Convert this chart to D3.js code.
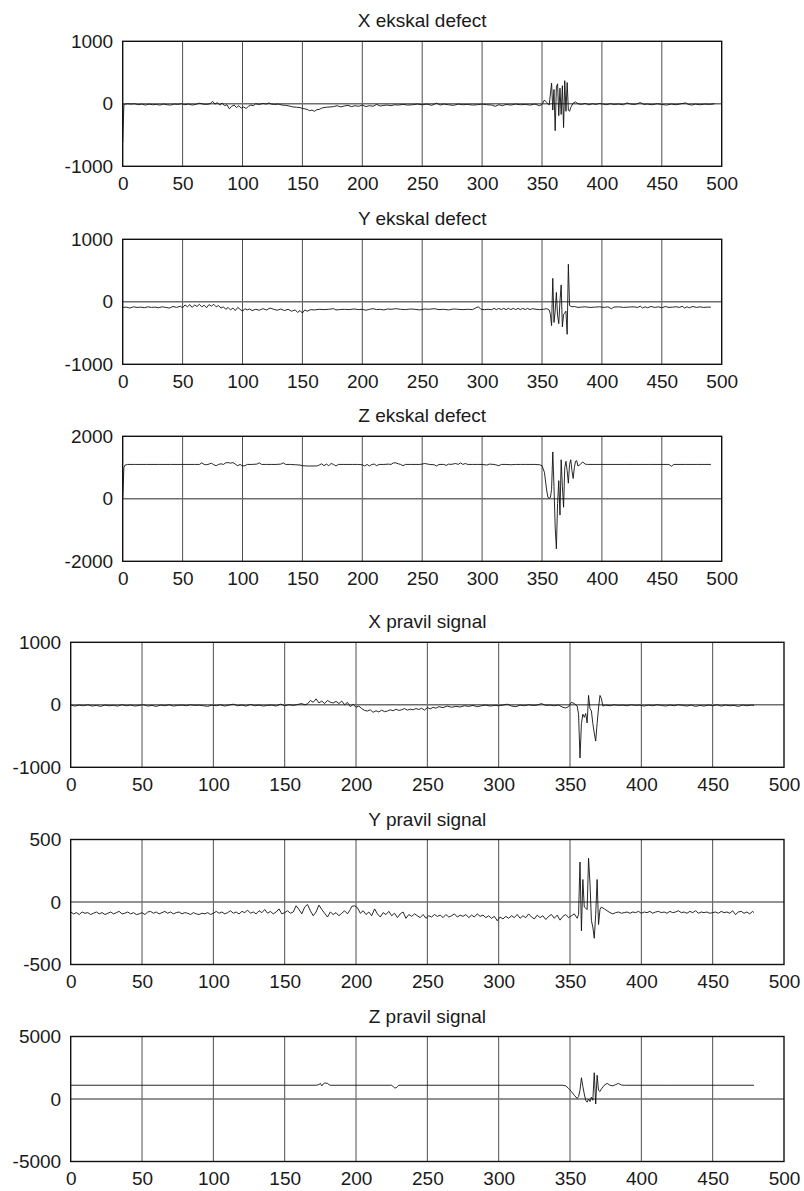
<!DOCTYPE html>
<html>
<head>
<meta charset="utf-8">
<script src="https://cdn.jsdelivr.net/npm/d3@7"></script>
<style>
  body { margin: 0; background: #fff; }
  svg { display: block; font-family: "Liberation Sans", Arial, sans-serif; }
  .tick text { font-size: 19px; fill: #1a1a1a; }
  .title { font-size: 19px; fill: #1a1a1a; }
</style>
</head>
<body>
<svg id="chart" width="804" height="1191"></svg>
<script>
// sample index, value pairs
const ekskalX = [
  [0,-620],[1,-10],[4,0],[7,-5],[10,0],[13,-15],[16,-5],[19,-20],[22,-5],[25,-15],[28,-10],[31,-20],[34,-5],[37,-15],[40,-20],[43,-5],[46,-10],[49,0],[52,-15],[55,-5],[58,-20],[61,-10],[64,10],[67,-5],[70,-10],[73,0],[75,40],[77,-5],[79,20],[81,-20],[83,10],[85,-30],[87,-15],[89,-80],[91,-40],[93,-20],[95,-60],[97,-30],[99,-70],[101,-50],[103,-75],[105,-40],[107,-20],[109,-30],[111,0],[114,-10],[117,5],[120,-5],[122,15],[124,-5],[127,-10],[130,-5],[133,-20],[136,-25],[139,-35],[142,-50],[145,-55],[148,-60],[150,-75],[152,-80],[154,-90],[156,-110],[158,-100],[160,-120],[162,-95],[164,-90],[166,-70],[168,-60],[170,-55],[173,-50],[176,-45],[179,-30],[182,-50],[185,-35],[188,-25],[191,-45],[194,-30],[197,-40],[200,-20],[203,-45],[206,-30],[209,-40],[212,-10],[215,-35],[218,-25],[221,-20],[224,-30],[227,-15],[230,-20],[234,-10],[238,-20],[242,-15],[246,-5],[250,-15],[254,-5],[258,-25],[262,10],[265,-20],[268,-5],[272,-15],[276,-25],[280,-5],[284,-15],[288,-10],[292,-20],[296,-15],[300,-5],[304,-15],[308,-20],[311,-40],[314,-15],[317,-30],[320,-10],[324,-20],[328,-5],[332,-15],[336,-10],[340,-20],[344,-5],[348,-30],[350,-10],[352,60],[354,20],[356,-20],[358,330],[359,-100],[360,230],[361,-430],[362,270],[363,320],[364,-190],[365,250],[366,-170],[367,290],[368,-380],[369,370],[370,-120],[371,340],[372,-100],[373,-120],[374,-60],[376,10],[378,30],[380,0],[383,-10],[386,5],[389,-15],[392,0],[395,-10],[398,5],[401,-5],[404,-15],[407,0],[410,-10],[414,-5],[418,-15],[421,15],[424,-5],[428,-10],[432,20],[435,-10],[438,-5],[442,-15],[446,0],[450,-10],[454,-20],[458,-5],[462,-15],[466,0],[470,15],[472,-10],[475,-20],[478,-5],[482,-15],[486,-5],[490,-10],[494,0]
];
const ekskalY = [
  [0,-90],[3,-85],[6,-100],[9,-80],[12,-90],[15,-85],[18,-95],[21,-80],[24,-90],[27,-85],[30,-95],[33,-80],[36,-90],[39,-100],[42,-75],[45,-90],[48,-70],[50,-95],[52,-50],[54,-80],[56,-45],[58,-90],[60,-50],[62,-75],[64,-40],[66,-80],[68,-55],[70,-95],[72,-45],[74,-70],[76,-40],[78,-80],[80,-60],[82,-100],[84,-80],[86,-120],[88,-90],[90,-130],[92,-100],[94,-140],[96,-90],[98,-120],[100,-150],[102,-110],[104,-130],[106,-115],[108,-140],[111,-120],[114,-135],[117,-110],[120,-130],[123,-100],[126,-120],[129,-135],[132,-115],[135,-140],[138,-120],[141,-150],[144,-130],[146,-170],[148,-140],[150,-180],[152,-130],[154,-150],[157,-125],[160,-130],[164,-120],[168,-125],[172,-120],[176,-110],[178,-130],[181,-125],[185,-120],[189,-125],[193,-115],[197,-125],[200,-120],[203,-135],[206,-120],[209,-110],[212,-125],[215,-120],[218,-130],[221,-115],[224,-120],[228,-110],[232,-120],[236,-125],[240,-115],[244,-120],[248,-130],[252,-115],[256,-120],[260,-110],[264,-125],[268,-120],[272,-130],[276,-115],[280,-120],[284,-125],[288,-120],[292,-125],[295,-95],[297,-80],[299,-120],[302,-125],[305,-120],[308,-125],[310,-105],[312,-125],[314,-105],[316,-125],[318,-105],[320,-125],[322,-105],[324,-125],[326,-105],[328,-125],[330,-105],[332,-125],[334,-105],[336,-125],[338,-105],[340,-125],[342,-110],[345,-120],[348,-125],[351,-120],[354,-110],[356,-130],[357,-200],[358,-380],[359,375],[360,-330],[361,-150],[362,150],[363,-220],[364,-350],[365,10],[366,270],[367,-400],[368,-200],[369,-180],[370,-150],[371,-520],[372,600],[373,-60],[375,-80],[377,-75],[380,-90],[383,-85],[386,-80],[390,-90],[394,-85],[398,-80],[402,-90],[405,-80],[408,-110],[410,-85],[414,-80],[418,-90],[422,-85],[426,-80],[430,-90],[432,-70],[434,-100],[436,-80],[438,-95],[441,-75],[444,-90],[447,-80],[450,-95],[453,-75],[456,-90],[459,-85],[462,-80],[465,-90],[467,-70],[469,-100],[471,-80],[473,-95],[476,-75],[479,-90],[482,-80],[485,-90],[488,-85],[491,-85]
];
const ekskalZ = [
  [0,0],[1,1000],[2,1080],[4,1100],[10,1100],[20,1100],[30,1100],[40,1100],[50,1100],[60,1100],[64,1100],[66,1150],[68,1100],[70,1090],[72,1110],[74,1140],[76,1090],[78,1060],[80,1100],[82,1120],[84,1100],[86,1150],[88,1160],[90,1140],[92,1160],[94,1110],[96,1060],[98,1100],[100,1050],[102,1060],[104,1100],[108,1100],[112,1110],[114,1150],[116,1100],[120,1100],[124,1100],[128,1100],[132,1110],[134,1150],[136,1100],[140,1100],[144,1090],[148,1080],[150,1060],[154,1050],[158,1050],[162,1050],[164,1080],[166,1120],[168,1060],[170,1110],[172,1060],[174,1130],[176,1100],[178,1050],[180,1100],[184,1100],[188,1100],[192,1100],[196,1100],[200,1090],[202,1050],[204,1100],[206,1050],[208,1100],[210,1110],[212,1060],[214,1100],[218,1100],[222,1110],[224,1100],[226,1150],[228,1150],[230,1120],[232,1100],[234,1060],[236,1100],[240,1100],[244,1100],[248,1100],[250,1110],[252,1130],[256,1100],[260,1090],[262,1050],[264,1100],[268,1100],[270,1070],[272,1110],[274,1100],[278,1130],[280,1100],[282,1150],[284,1100],[286,1130],[288,1100],[292,1100],[296,1100],[300,1100],[304,1080],[306,1110],[310,1100],[314,1060],[316,1100],[320,1100],[324,1090],[328,1100],[332,1100],[336,1100],[340,1100],[344,1100],[348,1090],[350,1060],[352,850],[354,250],[355,40],[356,20],[357,40],[358,300],[359,1500],[360,400],[361,-900],[362,-1600],[363,-150],[364,580],[365,-520],[366,1250],[367,400],[368,-270],[369,1000],[370,1200],[371,900],[372,500],[373,1100],[374,1250],[375,900],[376,650],[377,1000],[378,1200],[379,1220],[380,1050],[382,1100],[384,1180],[386,1110],[388,1100],[400,1100],[420,1100],[440,1100],[456,1100],[458,1040],[460,1100],[470,1100],[480,1100],[491,1100]
];
const pravilX = [
  [0,-5],[3,-20],[6,-5],[9,-15],[12,0],[15,-20],[18,-10],[21,-25],[24,-5],[27,-15],[30,-10],[33,-20],[36,0],[39,-15],[42,-5],[45,-20],[48,-10],[51,0],[54,-20],[57,-10],[60,-25],[63,-5],[66,-15],[69,0],[72,-20],[75,-10],[78,-5],[81,-15],[84,0],[87,-10],[90,-5],[93,-15],[96,-25],[99,-5],[102,-15],[105,0],[108,-20],[111,-5],[114,10],[117,-15],[120,-5],[123,-20],[126,5],[129,-15],[132,-5],[135,-20],[138,-10],[141,-5],[144,-20],[147,10],[150,-15],[153,0],[156,-10],[159,5],[162,20],[164,0],[166,15],[168,70],[170,40],[172,95],[174,30],[176,60],[178,20],[180,70],[182,40],[184,30],[186,55],[188,20],[190,60],[192,0],[194,40],[196,-30],[198,10],[200,-40],[202,-20],[204,-60],[206,-90],[208,-100],[210,-80],[212,-120],[214,-95],[216,-115],[218,-85],[220,-110],[222,-100],[224,-80],[226,-95],[228,-70],[230,-90],[232,-80],[234,-60],[236,-85],[238,-70],[240,-80],[242,-60],[244,-75],[246,-55],[248,-85],[250,-45],[252,-65],[254,-40],[256,-55],[258,-30],[261,-45],[264,-20],[267,-40],[270,-25],[273,-35],[276,-15],[279,-25],[282,-10],[285,-30],[288,-15],[291,-5],[294,-20],[297,-10],[300,-15],[303,-5],[306,10],[309,-20],[312,-30],[315,-5],[318,-15],[321,0],[324,-10],[327,-5],[330,20],[333,-10],[336,-5],[339,-15],[342,-5],[345,-40],[347,-50],[349,-30],[351,40],[353,20],[355,-20],[356,-150],[357,-850],[358,-300],[359,-150],[360,-200],[361,-140],[362,-290],[363,150],[364,-60],[365,-100],[366,-300],[367,-450],[368,-580],[369,-300],[370,-50],[371,150],[372,100],[373,-20],[375,-5],[378,-15],[381,0],[384,-10],[387,-5],[390,-15],[393,0],[396,-10],[399,-5],[402,-20],[405,-5],[408,-15],[411,0],[414,-10],[417,-20],[420,-5],[423,-15],[426,0],[429,-10],[432,-20],[435,-5],[438,-25],[441,-10],[444,-20],[447,-5],[450,-15],[453,0],[456,-20],[459,-5],[462,-15],[465,-10],[468,-25],[471,-5],[474,-15],[477,-5],[479,-10]
];
const pravilY = [
  [0,-80],[2,-95],[4,-85],[6,-100],[8,-80],[10,-90],[12,-85],[14,-100],[16,-90],[18,-80],[20,-95],[22,-85],[24,-100],[26,-90],[28,-80],[30,-95],[32,-85],[34,-75],[36,-95],[38,-90],[40,-80],[42,-95],[44,-85],[46,-100],[48,-95],[50,-85],[52,-100],[54,-80],[56,-75],[58,-90],[60,-80],[62,-95],[64,-85],[66,-75],[68,-90],[70,-80],[72,-95],[74,-85],[76,-80],[78,-95],[80,-85],[82,-90],[84,-100],[86,-85],[88,-95],[90,-100],[92,-90],[94,-95],[96,-85],[98,-100],[100,-90],[102,-75],[104,-90],[106,-80],[108,-95],[110,-85],[112,-70],[114,-90],[116,-80],[118,-95],[120,-75],[122,-85],[124,-65],[126,-90],[128,-80],[130,-95],[132,-70],[134,-85],[136,-60],[138,-90],[140,-75],[142,-95],[144,-80],[146,-55],[148,-95],[150,-85],[152,-70],[154,-90],[156,-80],[158,-30],[160,-60],[162,-95],[164,-40],[166,-20],[168,-70],[170,-110],[172,-80],[174,-25],[176,-60],[178,-90],[180,-120],[182,-80],[184,-100],[186,-85],[188,-110],[190,-90],[192,-70],[194,-95],[196,-60],[197,-35],[199,-30],[201,-45],[203,-90],[205,-70],[207,-100],[209,-80],[211,-110],[213,-55],[215,-95],[217,-120],[219,-85],[221,-100],[223,-75],[225,-110],[227,-90],[229,-125],[231,-95],[233,-80],[235,-130],[237,-100],[239,-115],[241,-95],[243,-110],[245,-125],[247,-100],[249,-130],[251,-110],[253,-120],[255,-100],[257,-115],[259,-105],[261,-125],[263,-100],[265,-120],[267,-110],[269,-95],[271,-120],[273,-105],[275,-115],[277,-100],[279,-125],[281,-105],[283,-120],[285,-95],[287,-115],[289,-105],[291,-125],[293,-110],[295,-130],[297,-115],[299,-150],[301,-120],[303,-135],[305,-115],[307,-130],[309,-110],[311,-125],[313,-100],[315,-130],[317,-110],[319,-125],[321,-95],[323,-120],[325,-135],[327,-105],[329,-125],[331,-110],[333,-140],[335,-115],[337,-100],[339,-130],[341,-105],[343,-145],[345,-115],[347,-100],[349,-125],[351,-110],[353,-95],[355,-130],[356,-100],[357,320],[358,-230],[359,180],[360,-40],[361,-50],[362,-60],[363,350],[364,150],[365,-150],[366,-200],[367,-290],[368,-100],[369,180],[370,-180],[371,-60],[372,-40],[374,-55],[376,-70],[378,-85],[380,-95],[382,-85],[384,-80],[386,-90],[388,-85],[390,-80],[392,-90],[394,-80],[396,-85],[398,-75],[400,-90],[402,-80],[404,-85],[406,-75],[408,-90],[410,-80],[412,-75],[414,-85],[416,-80],[418,-90],[420,-75],[422,-85],[424,-80],[426,-70],[428,-85],[430,-80],[432,-90],[434,-75],[436,-85],[438,-70],[440,-90],[442,-80],[444,-85],[446,-80],[448,-90],[450,-85],[452,-80],[454,-90],[456,-75],[458,-85],[460,-80],[462,-90],[464,-70],[466,-100],[468,-80],[470,-75],[472,-90],[474,-80],[476,-95],[478,-75],[479,-85]
];
const pravilZ = [
  [0,1100],[50,1100],[100,1100],[150,1100],[172,1100],[174,1150],[175,1250],[176,1050],[177,1200],[178,1280],[180,1250],[181,1150],[182,1100],[225,1100],[226,1000],[227,900],[228,880],[229,1000],[230,1100],[345,1100],[347,1050],[349,850],[351,600],[353,300],[355,50],[356,200],[357,700],[358,1700],[359,1000],[360,400],[361,-100],[362,-250],[363,0],[364,-200],[365,150],[366,-100],[367,2100],[368,-400],[369,1900],[370,700],[371,600],[372,800],[374,1100],[376,1250],[378,1100],[380,1050],[382,1150],[384,1250],[386,1120],[388,1100],[420,1100],[479,1100]
];

const titles = ['X ekskal defect', 'Y ekskal defect', 'Z ekskal defect',
                'X pravil signal', 'Y pravil signal', 'Z pravil signal'];
const series = [ekskalX, ekskalY, ekskalZ, pravilX, pravilY, pravilZ];
const yLimits = [1000, 1000, 2000, 1000, 500, 5000];
const xTicks = [0, 50, 100, 150, 200, 250, 300, 350, 400, 450, 500];

// panel boxes: left, top, width, height
const boxes = [
  [122.7, 41.3, 599, 125],
  [122.7, 239.3, 599, 125],
  [122.7, 436.3, 599, 125],
  [70.7, 642.3, 713.3, 125],
  [70.7, 839.5, 713.3, 125],
  [70.7, 1036.5, 713.3, 125]
];

const svg = d3.select('#chart');

series.forEach((data, i) => {
  const [left, top, w, h] = boxes[i];
  const lim = yLimits[i];
  const x = d3.scaleLinear().domain([0, 500]).range([0, w]);
  const y = d3.scaleLinear().domain([-lim, lim]).range([h, 0]);
  const g = svg.append('g').attr('transform', 'translate(' + left + ',' + top + ')');

  // vertical grid
  g.append('g')
    .selectAll('line')
    .data(xTicks.slice(1, -1))
    .enter()
    .append('line')
    .attr('x1', d => x(d)).attr('x2', d => x(d))
    .attr('y1', 0).attr('y2', h)
    .attr('stroke', '#3a3a3a')
    .attr('stroke-width', 0.9);
  // zero line
  g.append('line')
    .attr('x1', 0).attr('x2', w)
    .attr('y1', y(0)).attr('y2', y(0))
    .attr('stroke', '#6e6e6e')
    .attr('stroke-width', 1.6);

  const line = d3.line().x(d => x(d[0])).y(d => y(d[1]));
  g.append('path')
    .attr('d', line(data))
    .attr('fill', 'none')
    .attr('stroke', '#111')
    .attr('stroke-width', 0.9)
    .attr('stroke-linejoin', 'round');

  g.append('rect')
    .attr('width', w).attr('height', h)
    .attr('fill', 'none')
    .attr('stroke', '#111')
    .attr('stroke-width', 1.4);

  const xAxis = d3.axisBottom(x).tickValues(xTicks).tickSize(0).tickPadding(10.5)
    .tickFormat(d => String(d));
  const yAxis = d3.axisLeft(y).tickValues([-lim, 0, lim]).tickSize(0).tickPadding(9.5)
    .tickFormat(d => String(d));
  g.append('g').attr('transform', 'translate(0,' + h + ')').call(xAxis)
    .call(a => a.select('.domain').remove());
  g.append('g').call(yAxis)
    .call(a => a.select('.domain').remove());
  g.selectAll('.tick text').attr('font-family', null).attr('font-size', null);

  g.append('text')
    .attr('class', 'title')
    .attr('x', w / 2)
    .attr('y', -14)
    .attr('text-anchor', 'middle')
    .text(titles[i]);
});
</script>
</body>
</html>
